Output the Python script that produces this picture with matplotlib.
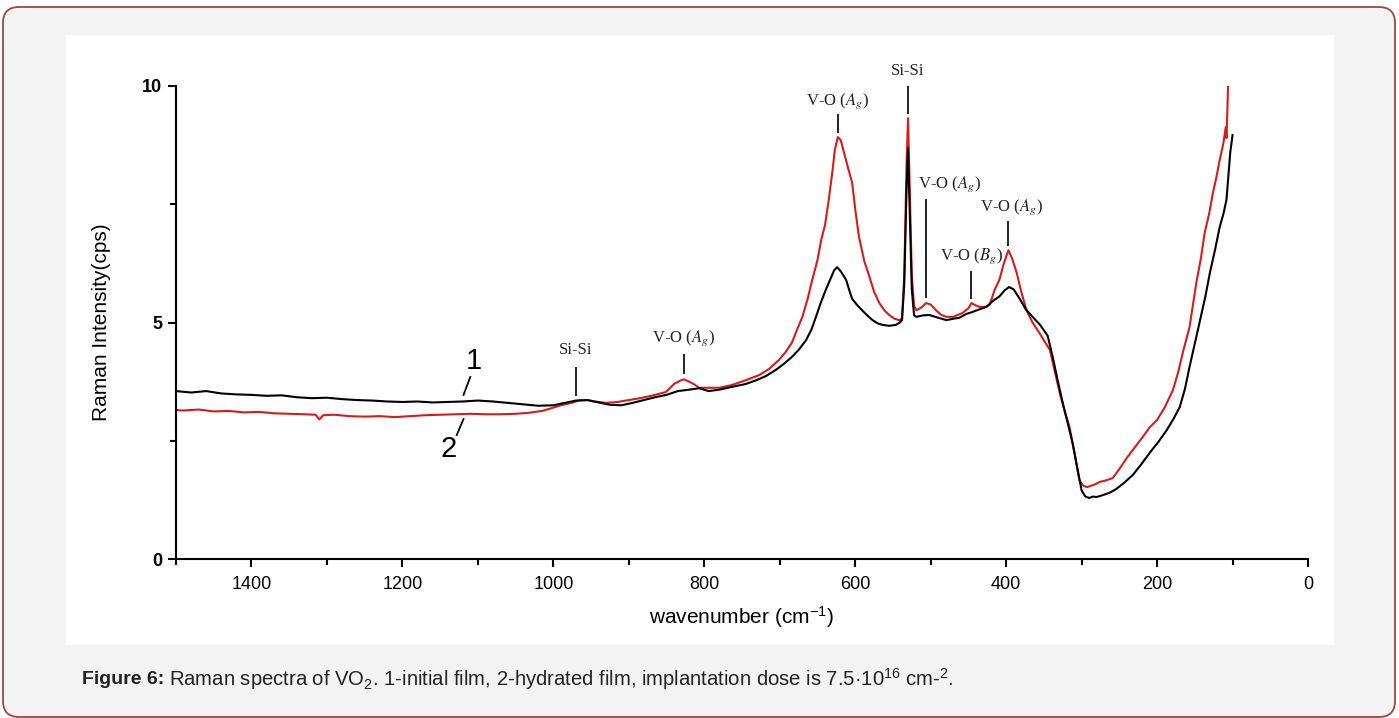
import matplotlib.pyplot as plt
from matplotlib.patches import FancyBboxPatch, Rectangle
from matplotlib.transforms import IdentityTransform
from matplotlib.ticker import FixedLocator

plt.rcParams['font.family'] = ['Liberation Sans', 'DejaVu Sans']
plt.rcParams['mathtext.fontset'] = 'custom'
plt.rcParams['mathtext.rm'] = 'Liberation Sans'
plt.rcParams['mathtext.it'] = 'Liberation Sans:italic'

# spectrum 1 - initial film
wn_1 = [1500, 1480, 1460, 1440, 1420, 1400, 1380, 1360, 1340, 1320, 1300, 1280,
        1260, 1240, 1220, 1200, 1180, 1160, 1140, 1120, 1100, 1080, 1060, 1040,
        1020, 1000, 985, 970, 955, 940, 925, 910, 895, 880, 865, 850, 835, 820,
        807, 794, 780, 763, 745, 731, 718, 705, 695, 684, 675, 665, 658, 652,
        646, 639, 632, 628, 624, 619, 612, 608, 604, 598, 591, 584, 577, 570,
        564, 555, 546, 541, 538, 535, 532, 530, 528, 525, 522, 519, 510, 502,
        490, 479, 470, 462, 453, 445, 435, 426, 418, 409, 402, 396, 390, 382,
        374, 365, 355, 345, 338, 332, 325, 318, 312, 306, 300, 295, 290, 285,
        280, 272, 263, 254, 243, 232, 221, 210, 198, 187, 178, 170, 163, 157,
        150, 143, 136, 130, 123, 117, 112, 108, 105, 103, 100]
int_1 = [3.55, 3.52, 3.55, 3.50, 3.48, 3.47, 3.45, 3.46, 3.42, 3.40, 3.41, 3.38,
         3.36, 3.35, 3.33, 3.32, 3.33, 3.31, 3.32, 3.33, 3.35, 3.33, 3.30, 3.27,
         3.24, 3.25, 3.30, 3.35, 3.36, 3.31, 3.26, 3.25, 3.30, 3.36, 3.42, 3.47,
         3.55, 3.58, 3.61, 3.55, 3.58, 3.64, 3.70, 3.78, 3.87, 4.00, 4.12, 4.27,
         4.42, 4.63, 4.85, 5.12, 5.40, 5.69, 5.95, 6.10, 6.17, 6.08, 5.90, 5.69,
         5.50, 5.38, 5.26, 5.15, 5.05, 4.98, 4.95, 4.93, 4.95, 5.00, 5.05, 5.80,
         7.80, 8.69, 7.50, 5.70, 5.15, 5.12, 5.15, 5.16, 5.10, 5.05, 5.08, 5.10,
         5.18, 5.22, 5.28, 5.33, 5.45, 5.55, 5.68, 5.75, 5.70, 5.50, 5.28, 5.12,
         4.95, 4.72, 4.25, 3.80, 3.30, 2.85, 2.45, 1.95, 1.45, 1.32, 1.29, 1.32,
         1.31, 1.35, 1.40, 1.48, 1.62, 1.78, 2.00, 2.24, 2.48, 2.73, 2.97, 3.21,
         3.60, 4.06, 4.55, 5.05, 5.55, 6.05, 6.55, 7.02, 7.30, 7.60, 8.20, 8.60,
         8.96]

# spectrum 2 - hydrated film
wn_2 = [1500, 1490, 1470, 1450, 1430, 1410, 1390, 1370, 1350, 1330, 1315, 1310,
        1305, 1290, 1270, 1250, 1230, 1210, 1190, 1170, 1150, 1130, 1110, 1090,
        1070, 1050, 1033, 1015, 1002, 990, 976, 966, 955, 945, 930, 915, 900,
        885, 870, 851, 840, 832, 827, 820, 812, 807, 795, 780, 763, 745, 727,
        714, 701, 692, 684, 677, 670, 663, 657, 650, 645, 640, 635, 630, 627,
        623, 619, 615, 610, 604, 600, 595, 588, 581, 575, 568, 561, 555, 548,
        542, 538, 535, 532, 530, 528, 525, 522, 519, 512, 506, 500, 493, 486,
        479, 470, 458, 450, 446, 440, 435, 428, 422, 415, 409, 403, 397, 392,
        386, 380, 373, 365, 356, 349, 342, 336, 329, 322, 316, 310, 303, 298,
        293, 287, 282, 276, 268, 259, 250, 240, 230, 219, 210, 200, 190, 179,
        172, 166, 157, 148, 142, 137, 131, 126, 121, 117, 112, 109, 108, 107,
        106]
int_2 = [3.15, 3.14, 3.16, 3.12, 3.13, 3.10, 3.11, 3.08, 3.07, 3.06, 3.05, 2.95,
         3.04, 3.05, 3.02, 3.01, 3.02, 3.00, 3.02, 3.04, 3.05, 3.06, 3.07, 3.06,
         3.06, 3.07, 3.09, 3.13, 3.19, 3.25, 3.30, 3.35, 3.36, 3.33, 3.30, 3.32,
         3.36, 3.40, 3.45, 3.53, 3.70, 3.77, 3.80, 3.75, 3.68, 3.62, 3.62, 3.62,
         3.68, 3.78, 3.89, 4.02, 4.21, 4.38, 4.57, 4.85, 5.12, 5.50, 5.90, 6.32,
         6.75, 7.06, 7.60, 8.22, 8.65, 8.92, 8.85, 8.60, 8.30, 7.95, 7.40, 6.81,
         6.30, 5.96, 5.65, 5.41, 5.25, 5.16, 5.08, 5.05, 5.08, 6.00, 8.30, 9.32,
         8.00, 6.00, 5.35, 5.26, 5.32, 5.41, 5.38, 5.26, 5.16, 5.12, 5.12, 5.20,
         5.30, 5.41, 5.36, 5.33, 5.33, 5.37, 5.70, 5.90, 6.25, 6.53, 6.35, 6.05,
         5.65, 5.26, 5.00, 4.78, 4.60, 4.42, 4.00, 3.51, 3.10, 2.79, 2.30, 1.67,
         1.55, 1.52, 1.55, 1.58, 1.63, 1.66, 1.71, 1.90, 2.14, 2.35, 2.58, 2.78,
         2.94, 3.20, 3.57, 3.95, 4.36, 4.90, 5.84, 6.35, 6.89, 7.30, 7.74, 8.10,
         8.44, 8.80, 9.13, 8.90, 9.40, 9.98]

# band assignments: position, label text, text (x, y), marker line from/to
bands = [
    (970, 'Si-Si', 970, 4.42, 4.04, 3.47),
    (827, r'V-O ($A_g$)', 827, 4.67, 4.31, 3.93),
    (623, r'V-O ($A_g$)', 623, 9.68, 9.39, 9.03),
    (530, 'Si-Si', 530, 10.32, 9.98, 9.43),
    (506, r'V-O ($A_g$)', 475, 7.93, 7.59, 5.54),
    (446, r'V-O ($B_g$)', 446, 6.41, 6.07, 5.52),
    (397, r'V-O ($A_g$)', 393, 7.44, 7.12, 6.64),
]

fig = plt.figure(figsize=(13.99, 7.18), dpi=100, facecolor='white')

# page background: rounded grey frame with a white panel
frame = FancyBboxPatch((3, 1), 1392, 710, boxstyle='round,pad=0,rounding_size=16',
                       transform=IdentityTransform(), facecolor='#f3f3f3',
                       edgecolor='#9a4a3a', linewidth=1.3, zorder=-2)
fig.patches.append(frame)
panel = Rectangle((66, 73), 1268, 610, transform=IdentityTransform(),
                  facecolor='white', edgecolor='none', zorder=-1)
fig.patches.append(panel)

ax = fig.add_axes([176 / 1399, 1 - 559 / 718, 1132 / 1399, 473 / 718])
ax.patch.set_alpha(0)

ax.plot(wn_1, int_1, color='black', lw=1.5, zorder=3)
ax.plot(wn_2, int_2, color='#d41c1c', lw=1.5, zorder=2)

ax.set_xlim(1500, 0)
ax.set_ylim(0, 10)
for side in ['top', 'right']:
    ax.spines[side].set_visible(False)
for side in ['left', 'bottom']:
    ax.spines[side].set_linewidth(1.5)

ax.xaxis.set_major_locator(FixedLocator([1400, 1200, 1000, 800, 600, 400, 200, 0]))
ax.xaxis.set_minor_locator(FixedLocator([1500, 1300, 1100, 900, 700, 500, 300, 100]))
ax.yaxis.set_major_locator(FixedLocator([0, 5, 10]))
ax.yaxis.set_minor_locator(FixedLocator([2.5, 7.5]))
ax.tick_params(which='major', direction='out', length=6, width=1.5)
ax.tick_params(which='minor', direction='out', length=4, width=1.5)
ax.tick_params(axis='x', labelsize=13, pad=6)
ax.tick_params(axis='y', labelsize=13, pad=4)
for lbl in ax.get_yticklabels():
    lbl.set_fontweight('bold')

ax.set_xlabel(r'wavenumber (cm$^{-1}$)', fontsize=15, labelpad=8)
ax.set_ylabel('Raman Intensity(cps)', fontsize=15, labelpad=22)

for pos, label, tx, ty, y0, y1 in bands:
    ax.plot([pos, pos], [y0, y1], color='#222222', lw=1.4, clip_on=False)
    ax.text(tx, ty, label, ha='center', va='center', fontsize=12,
            family='Liberation Serif', math_fontfamily='stix', color='#222222',
            clip_on=False)

# curve numbers
ax.plot([1119, 1110], [3.47, 3.85], color='black', lw=1.3)
ax.text(1105, 4.18, '1', fontsize=21, ha='center', va='center')
ax.plot([1119, 1128], [2.96, 2.62], color='black', lw=1.3)
ax.text(1139, 2.33, '2', fontsize=21, ha='center', va='center')

# caption
renderer = fig.canvas.get_renderer()
head = fig.text(82 / 1399, 1 - 679 / 718, 'Figure 6:', fontsize=14,
                fontweight='bold', va='center', color='#222222')
bb = head.get_window_extent(renderer)
fig.text((bb.x1 + 5) / 1399, 1 - 679 / 718,
         r'Raman spectra of VO$_2$. 1-initial film, 2-hydrated film, '
         r'implantation dose is 7.5·10$^{16}$ cm-$^{2}$.',
         fontsize=14.6, va='center', color='#222222')

fig.savefig('out.png', dpi=100, facecolor='white')
